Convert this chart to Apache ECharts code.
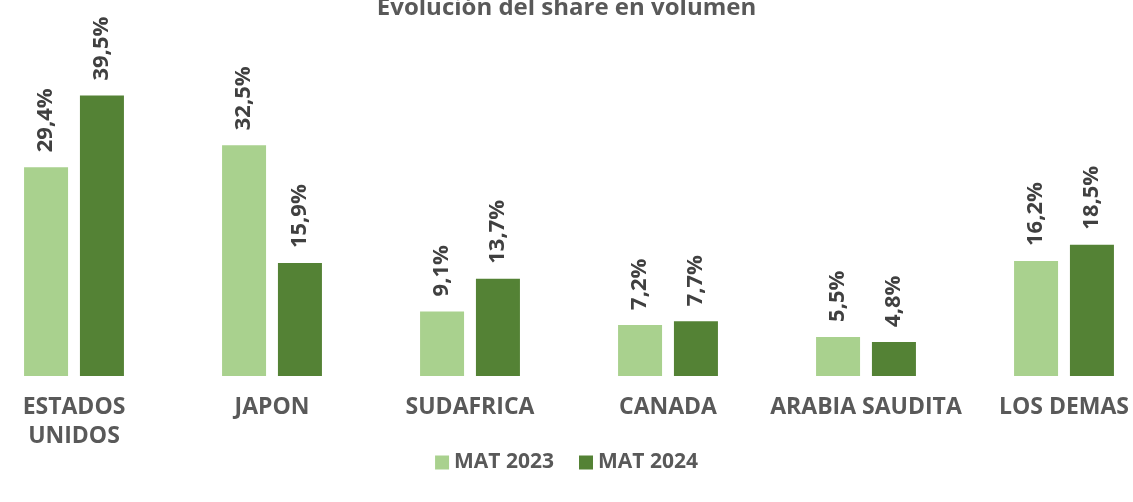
<!DOCTYPE html>
<html>
<head>
<meta charset="utf-8">
<script src="https://cdn.jsdelivr.net/npm/echarts@6/dist/echarts.min.js"></script>
<style>
  html, body { margin: 0; padding: 0; background: #fff; }
  #chart { width: 1133px; height: 502px; }
</style>
</head>
<body>
<div id="chart"></div>
<script>
const categories = ['ESTADOS\nUNIDOS', 'JAPON', 'SUDAFRICA', 'CANADA', 'ARABIA SAUDITA', 'LOS DEMAS'];
const mat2023 = [29.4, 32.5, 9.1, 7.2, 5.5, 16.2];
const mat2024 = [39.5, 15.9, 13.7, 7.7, 4.8, 18.5];
const seriesNames = ['MAT 2023', 'MAT 2024'];
const colors = ['#A9D18E', '#548235'];

const font = '"Open Sans", "Noto Sans", sans-serif';

function pct(p) {
    return p.value.toFixed(1).replace('.', ',') + '%';
}

function barSeries(name, data) {
    return {
        name: name,
        type: 'bar',
        data: data,
        barWidth: 44,
        barGap: '27%',
        label: {
            show: true,
            position: 'top',
            rotate: 90,
            align: 'left',
            verticalAlign: 'middle',
            distance: 15,
            formatter: pct,
            fontFamily: font,
            fontWeight: 'bold',
            fontSize: 22,
            color: '#404040'
        }
    };
}

let instance = echarts.init(document.getElementById('chart'));
instance.setOption({
    color: colors,
    title: {
        text: 'Evolución del share en volumen',
        left: 'center',
        top: -9,
        textStyle: {
            fontFamily: font,
            fontWeight: 'bold',
            fontSize: 24,
            color: '#595959'
        }
    },
    legend: {
        bottom: 24,
        left: 'center',
        icon: 'rect',
        itemWidth: 14,
        itemHeight: 14,
        itemGap: 25,
        data: seriesNames,
        textStyle: {
            fontFamily: font,
            fontWeight: 'bold',
            fontSize: 21,
            color: '#595959'
        }
    },
    grid: {
        left: -25,
        width: 1188,
        top: 92,
        bottom: 126,
        outerBoundsMode: 'none'
    },
    xAxis: {
        type: 'category',
        data: categories,
        axisLine: { show: false },
        axisTick: { show: false },
        axisLabel: {
            interval: 0,
            margin: 17,
            lineHeight: 29,
            fontFamily: font,
            fontWeight: 'bold',
            fontSize: 23,
            color: '#595959'
        }
    },
    yAxis: {
        type: 'value',
        min: 0,
        max: 40,
        show: false
    },
    series: [
        barSeries(seriesNames[0], mat2023),
        barSeries(seriesNames[1], mat2024)
    ]
});
</script>
</body>
</html>
